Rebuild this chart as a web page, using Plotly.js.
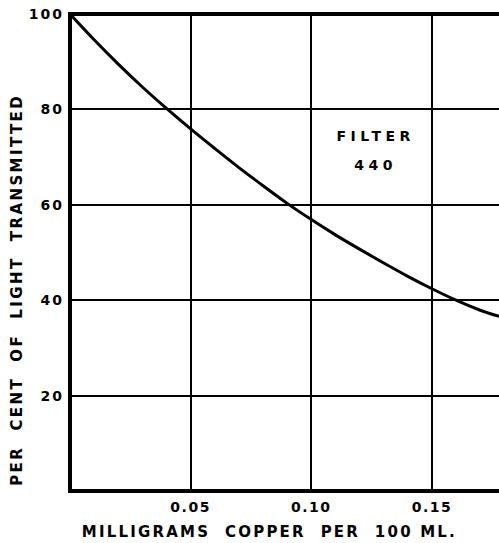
<!DOCTYPE html>
<html>
<head>
<meta charset="utf-8">
<script src="https://cdn.plot.ly/plotly-3.0.1.min.js"></script>
<style>
html,body{margin:0;padding:0;background:#fff;}
#chart{width:499px;height:543px;}
#chart .xtick text{letter-spacing:1.5px;}
#chart .ytick text{letter-spacing:2px;}
#chart g.annotation[data-index="0"] text, #chart g.annotation[data-index="1"] text{letter-spacing:4.5px;}
#chart g.annotation[data-index="2"] text{letter-spacing:2.2px;}
#chart g.annotation[data-index="3"] text{letter-spacing:2.4px;}
</style>
</head>
<body>
<div id="chart"></div>
<script>
const copperMg = [0, 0.01, 0.02, 0.03, 0.04, 0.05, 0.06, 0.07, 0.08, 0.09, 0.10, 0.11, 0.12, 0.13, 0.14, 0.15, 0.16, 0.17, 0.178];
const percentTransmitted = [100, 94.6, 89.5, 84.7, 80.2, 75.9, 71.8, 67.8, 64.0, 60.3, 56.9, 53.7, 50.7, 47.8, 45.0, 42.4, 40.0, 37.9, 36.6];
const xTickVals = [0.05, 0.10, 0.15];
const xTickText = ["0.05", "0.10", "0.15"];
const yTickVals = [20, 40, 60, 80, 100];
const yTickText = ["20", "40", "60", "80", "100"];
const xTitle = "MILLIGRAMS  COPPER  PER  100 ML.";
const yTitle = "PER  CENT  OF  LIGHT  TRANSMITTED";
const curveLabel = ["FILTER", "440"];

const font = "DejaVu Sans, sans-serif";
const trace = {
  x: copperMg, y: percentTransmitted, mode: "lines", type: "scatter",
  line: {color: "#000", width: 3, shape: "spline"}, hoverinfo: "skip"
};
const layout = {
  width: 499, height: 543,
  margin: {l: 70, r: 0, t: 14, b: 52},
  paper_bgcolor: "#fff", plot_bgcolor: "#fff",
  showlegend: false,
  xaxis: {
    range: [0, 0.1778], tickvals: xTickVals, ticktext: xTickText,
    showgrid: true, gridcolor: "#000", gridwidth: 2, zeroline: false, showline: false,
    ticks: "", ticklen: 0, ticklabelstandoff: 6,
    tickfont: {family: font, size: 14, color: "#000", weight: "bold"}
  },
  yaxis: {
    range: [0, 100], tickvals: yTickVals, ticktext: yTickText,
    showgrid: true, gridcolor: "#000", gridwidth: 2, zeroline: false, showline: false,
    ticks: "", ticklen: 0, ticklabelstandoff: 5,
    tickfont: {family: font, size: 14, color: "#000", weight: "bold"}
  },
  shapes: [
    {type: "line", xref: "paper", yref: "paper", x0: 0, x1: 0, y0: -0.004, y1: 1.004, line: {color: "#000", width: 4}},
    {type: "line", xref: "paper", yref: "paper", x0: 0, x1: 1, y0: 0, y1: 0, line: {color: "#000", width: 4}},
    {type: "line", xref: "paper", yref: "paper", x0: 0, x1: 1, y0: 1, y1: 1, line: {color: "#000", width: 4}}
  ],
  annotations: [
    {x: 0.1268, y: 74.5, xref: "x", yref: "y", text: curveLabel[0], showarrow: false, font: {family: font, size: 14, color: "#000", weight: "bold"}},
    {x: 0.1268, y: 68.3, xref: "x", yref: "y", text: curveLabel[1], showarrow: false, font: {family: font, size: 14, color: "#000", weight: "bold"}},
    {x: 0.466, y: -0.086, xref: "paper", yref: "paper", xanchor: "center", yanchor: "middle", text: xTitle, showarrow: false, font: {family: font, size: 15, color: "#000", weight: "bold"}},
    {x: -0.1235, y: 0.421, xref: "paper", yref: "paper", xanchor: "center", yanchor: "middle", textangle: -90, text: yTitle, showarrow: false, font: {family: font, size: 15, color: "#000", weight: "bold"}}
  ]
};
Plotly.newPlot("chart", [trace], layout, {displayModeBar: false, staticPlot: true});
</script>
</body>
</html>
